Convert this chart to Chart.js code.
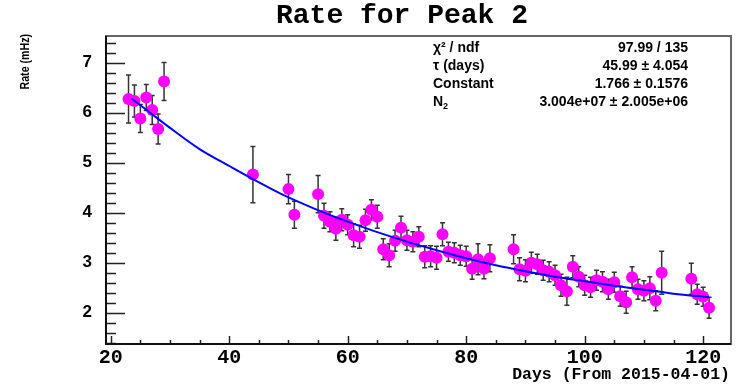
<!DOCTYPE html>
<html>
<head>
<meta charset="utf-8">
<title>Rate for Peak 2</title>
<script src="https://cdn.jsdelivr.net/npm/chart.js@4.4.1/dist/chart.umd.min.js"></script>
<style>
  html, body { margin: 0; padding: 0; background: #fff; }
  #wrap { position: relative; width: 737px; height: 384px; }
</style>
</head>
<body>
<div id="wrap"><canvas id="rateChart" width="737" height="384"></canvas></div>
<script>
// Measured points (days since 2015-04-01, rate in mHz)
const days = [23, 24, 25, 26, 27, 28, 29, 44, 50, 51,
    55, 56, 57, 58, 59, 60, 61, 62, 63, 64, 65, 66, 67, 68, 69, 70,
    71, 72, 73, 74, 75, 76, 77, 78, 79, 80, 81, 82, 83, 84,
    88, 89, 90, 91, 92, 93, 94, 95, 96, 97, 98, 99, 100,
    101, 102, 103, 104, 105, 106, 107, 108, 109, 110, 111, 112, 113,
    118, 119, 120, 121];
const rate = [6.27, 6.23, 5.88, 6.30, 6.05, 5.67, 6.62, 4.76, 4.47, 3.96,
    4.37, 3.94, 3.82, 3.68, 3.86, 3.76, 3.55, 3.52, 3.85, 4.06, 3.92, 3.27, 3.15, 3.44, 3.70, 3.45,
    3.42, 3.52, 3.12, 3.13, 3.10, 3.57, 3.22, 3.20, 3.15, 3.13, 2.88, 3.07, 2.88, 3.09,
    3.27, 2.87, 2.84, 3.00, 2.97, 2.85, 2.82, 2.75, 2.55, 2.43, 2.92, 2.72, 2.55,
    2.51, 2.65, 2.62, 2.47, 2.61, 2.33, 2.21, 2.71, 2.47, 2.44, 2.49, 2.24, 2.80,
    2.68, 2.37, 2.32, 2.10];
const rateErr = [0.48, 0.32, 0.28, 0.26, 0.29, 0.30, 0.38, 0.56, 0.29, 0.27,
    0.37, 0.25, 0.20, 0.23, 0.22, 0.20, 0.23, 0.23, 0.22, 0.20, 0.23, 0.21, 0.23, 0.21, 0.23, 0.20,
    0.20, 0.20, 0.22, 0.21, 0.23, 0.23, 0.19, 0.20, 0.20, 0.20, 0.21, 0.31, 0.20, 0.27,
    0.29, 0.23, 0.22, 0.21, 0.20, 0.20, 0.20, 0.20, 0.22, 0.28, 0.22, 0.20, 0.20,
    0.20, 0.20, 0.20, 0.20, 0.20, 0.20, 0.22, 0.21, 0.20, 0.20, 0.23, 0.20, 0.43,
    0.31, 0.20, 0.19, 0.21];

// Fit curve
const fitDays = [23.5, 26.5, 29.5, 35, 40.5, 44, 48.5, 52, 56, 60, 65, 70,
    75, 80, 85, 90, 95, 100, 105, 110, 115, 121];
const fitRate = [6.28, 6.01, 5.74, 5.27, 4.90, 4.67, 4.39, 4.20, 4.00, 3.82, 3.61, 3.42,
    3.25, 3.09, 2.95, 2.83, 2.72, 2.63, 2.54, 2.46, 2.38, 2.31];

const xTickValues = [20, 40, 60, 80, 100, 120];
const yTickValues = [2, 3, 4, 5, 6, 7];

const statsLabels = ['\u03c7\u00b2 / ndf', '\u03c4 (days)', 'Constant', 'N'];
const statsValues = ['97.99 / 135', '45.99 \u00b1 4.054', '1.766 \u00b1 0.1576', '3.004e+07 \u00b1 2.005e+06'];

const titleText = 'Rate for Peak 2';
const xTitle = 'Days (From 2015-04-01)';
const yTitle = 'Rate (mHz)';

/**
 * Error bars with small caps, drawn under the markers
 */
const errorBarPlugin = {
    id: 'errorBars',
    beforeDatasetsDraw(chart) {
        const { ctx, scales: { x, y }, chartArea } = chart;
        ctx.save();
        ctx.beginPath();
        ctx.rect(chartArea.left, chartArea.top, chartArea.right - chartArea.left, chartArea.bottom - chartArea.top);
        ctx.clip();
        ctx.strokeStyle = '#333';
        ctx.lineWidth = 1.5;
        days.forEach((d, i) => {
            const px = x.getPixelForValue(d);
            const top = y.getPixelForValue(rate[i] + rateErr[i]);
            const bot = y.getPixelForValue(rate[i] - rateErr[i]);
            ctx.beginPath();
            ctx.moveTo(px, top); ctx.lineTo(px, bot);
            ctx.moveTo(px - 2.5, top); ctx.lineTo(px + 2.5, top);
            ctx.moveTo(px - 2.5, bot); ctx.lineTo(px + 2.5, bot);
            ctx.stroke();
        });
        ctx.restore();
    }
};

/**
 * Frame, inner ticks and texts (ROOT style)
 */
const framePlugin = {
    id: 'rootFrame',
    afterDraw(chart) {
        const { ctx, scales: { x, y }, chartArea: a } = chart;
        ctx.save();

        // ticks inside the frame
        ctx.strokeStyle = '#222';
        ctx.lineWidth = 1.5;
        ctx.beginPath();
        for (let v = Math.ceil(y.min / 0.2) * 0.2; v <= y.max; v += 0.2) {
            const py = Math.round(y.getPixelForValue(v)) + 0.5;
            const major = yTickValues.some(t => Math.abs(t - v) < 1e-6);
            ctx.moveTo(a.left, py); ctx.lineTo(a.left + (major ? 19 : 10), py);
        }
        for (let v = Math.ceil(x.min / 5) * 5; v <= x.max; v += 5) {
            const px = Math.round(x.getPixelForValue(v)) + 0.5;
            const major = xTickValues.includes(v);
            ctx.moveTo(px, a.bottom); ctx.lineTo(px, a.bottom - (major ? 8 : 4));
        }
        ctx.stroke();

        // frame
        ctx.lineWidth = 2;
        ctx.strokeStyle = '#666';
        ctx.strokeRect(a.left, a.top, a.right - a.left, a.bottom - a.top);
        ctx.strokeStyle = '#111';
        ctx.beginPath();
        ctx.moveTo(a.left, a.top); ctx.lineTo(a.left, a.bottom); ctx.lineTo(a.right, a.bottom);
        ctx.stroke();

        ctx.fillStyle = '#000';
        // title
        ctx.font = 'bold 28px "Liberation Mono", monospace';
        ctx.textAlign = 'center';
        ctx.textBaseline = 'middle';
        ctx.fillText(titleText, 402, 16);

        // x title
        ctx.font = 'bold 16.5px "Liberation Mono", monospace';
        ctx.textAlign = 'right';
        ctx.fillText(xTitle, 730, 375);

        // y title (slightly condensed, as in the original)
        ctx.save();
        ctx.translate(25.5, 34);
        ctx.rotate(-Math.PI / 2);
        ctx.scale(0.85, 1);
        ctx.font = 'bold 12.5px "Liberation Sans", Arial, sans-serif';
        ctx.textAlign = 'right';
        ctx.fillText(yTitle, 0, 0);
        ctx.restore();

        // fit statistics
        const rowY = [48, 66.5, 84, 102];
        ctx.font = 'bold 14px "Liberation Sans", Arial, sans-serif';
        statsLabels.forEach((lab, i) => {
            ctx.textAlign = 'left';
            ctx.fillText(lab, 433, rowY[i]);
            ctx.textAlign = 'right';
            ctx.fillText(statsValues[i], 688, rowY[i]);
        });
        // subscript of N2
        const nW = ctx.measureText('N').width;
        ctx.font = 'bold 9px "Liberation Sans", Arial, sans-serif';
        ctx.textAlign = 'left';
        ctx.fillText('2', 433 + nW, rowY[3] + 5);

        ctx.restore();
    }
};

const ctx = document.getElementById('rateChart');
new Chart(ctx, {
    type: 'scatter',
    data: {
        datasets: [
            {
                label: 'fit',
                type: 'line',
                data: fitDays.map((d, i) => ({ x: d, y: fitRate[i] })),
                borderColor: '#0000ff',
                borderWidth: 2,
                pointRadius: 0,
                cubicInterpolationMode: 'monotone',
                fill: false,
                order: 0
            },
            {
                label: 'rate',
                data: days.map((d, i) => ({ x: d, y: rate[i] })),
                backgroundColor: '#ff00ff',
                borderColor: '#ff00ff',
                borderWidth: 0,
                pointRadius: 6,
                order: 1
            }
        ]
    },
    options: {
        responsive: false,
        animation: false,
        devicePixelRatio: 1,
        layout: { padding: { top: 36, right: 6, left: 0, bottom: 0 } },
        plugins: {
            legend: { display: false },
            tooltip: { enabled: false },
            title: { display: false }
        },
        scales: {
            x: {
                type: 'linear',
                min: 19.2,
                max: 124.7,
                afterBuildTicks: s => { s.ticks = xTickValues.map(v => ({ value: v })); },
                afterFit: s => { s.height = 40; },
                grid: { display: false, drawTicks: false },
                border: { display: false },
                ticks: {
                    autoSkip: false,
                    maxRotation: 0,
                    padding: 2,
                    color: '#000',
                    font: { family: '"Liberation Mono", monospace', size: 20, weight: 'bold' }
                }
            },
            y: {
                type: 'linear',
                min: 1.375,
                max: 7.53,
                afterBuildTicks: s => { s.ticks = yTickValues.map(v => ({ value: v })); },
                afterFit: s => { s.width = 106; },
                grid: { display: false, drawTicks: false },
                border: { display: false },
                ticks: {
                    autoSkip: false,
                    padding: 14,
                    color: '#000',
                    font: { family: '"Liberation Sans", Arial, sans-serif', size: 17, weight: 'bold' }
                }
            }
        }
    },
    plugins: [errorBarPlugin, framePlugin]
});
</script>
</body>
</html>
